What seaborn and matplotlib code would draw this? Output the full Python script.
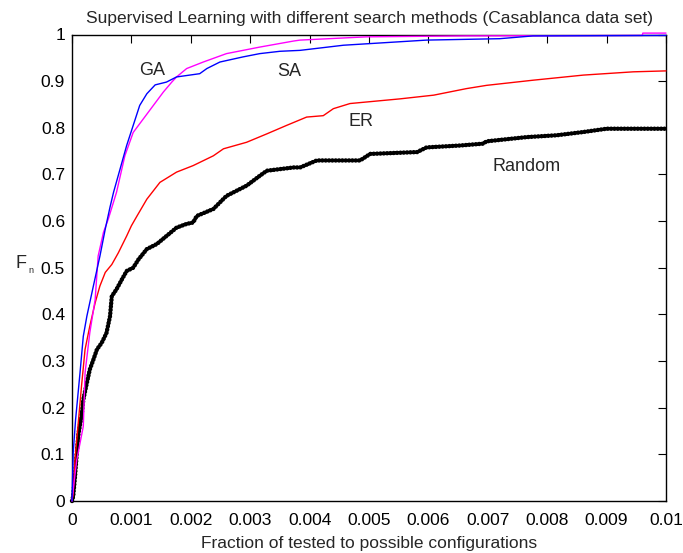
import matplotlib
matplotlib.use("Agg")
import matplotlib.pyplot as plt
import seaborn as sns
import pandas as pd

# ---- data ----
ga_x = [0, 0.00002, 0.00006, 0.000135, 0.00019, 0.00025, 0.00036, 0.00047, 0.00056, 0.00064,
        0.0007, 0.00081, 0.00092, 0.00103, 0.00114, 0.00126, 0.0014, 0.00159, 0.00176, 0.00215,
        0.00227, 0.00249, 0.00288, 0.00316, 0.0035, 0.00384, 0.00457, 0.00597, 0.0072, 0.00776, 0.01]
ga_y = [0, 0.103, 0.174, 0.275, 0.353, 0.396, 0.461, 0.525, 0.583, 0.630,
        0.662, 0.712, 0.762, 0.805, 0.848, 0.873, 0.892, 0.898, 0.909, 0.916,
        0.927, 0.941, 0.952, 0.959, 0.964, 0.966, 0.977, 0.988, 0.991, 0.997, 0.998]

sa_x = [0, 0.00002, 0.00008, 0.00019, 0.00022, 0.0003, 0.00039, 0.00044, 0.00053, 0.00061,
        0.00075, 0.00089, 0.00103, 0.0012, 0.00137, 0.00154, 0.00168, 0.00176, 0.00193, 0.00221,
        0.0026, 0.00316, 0.00373, 0.00384, 0.00496, 0.00664, 0.0096, 0.00961, 0.01]
sa_y = [0, 0.024, 0.088, 0.160, 0.275, 0.361, 0.432, 0.525, 0.576, 0.604,
        0.662, 0.740, 0.790, 0.819, 0.848, 0.877, 0.898, 0.909, 0.927, 0.941,
        0.959, 0.973, 0.986, 0.988, 0.995, 0.997, 0.998, 1.003, 1.003]

er_x = [0, 0.00002, 0.00005, 0.00011, 0.00016, 0.00022, 0.0003, 0.00039, 0.00047, 0.00056,
        0.00067, 0.00078, 0.00092, 0.001, 0.00109, 0.00126, 0.00148, 0.00176, 0.00204, 0.00238,
        0.00255, 0.00294, 0.00328, 0.00361, 0.00395, 0.00423, 0.0044, 0.00468, 0.00552, 0.00609,
        0.00664, 0.00698, 0.00776, 0.00861, 0.00945, 0.01]
er_y = [0, 0.016, 0.088, 0.174, 0.246, 0.325, 0.375, 0.425, 0.461, 0.490,
        0.507, 0.532, 0.568, 0.590, 0.610, 0.647, 0.683, 0.705, 0.719, 0.740,
        0.755, 0.769, 0.787, 0.805, 0.823, 0.826, 0.841, 0.852, 0.862, 0.870,
        0.884, 0.891, 0.902, 0.913, 0.920, 0.922]

rnd_x = [0, 0.00002, 0.00005, 0.00008, 0.00011, 0.00016, 0.00019, 0.00025, 0.0003, 0.00036,
         0.00042, 0.0005, 0.00058, 0.00064, 0.00067, 0.00075, 0.00084, 0.00092, 0.00103, 0.00112,
         0.00126, 0.00143, 0.00159, 0.00176, 0.00193, 0.00204, 0.0021, 0.00238, 0.0026, 0.00294,
         0.00316, 0.00328, 0.00373, 0.00384, 0.00412, 0.00485, 0.00502, 0.00581, 0.00597, 0.00653,
         0.00692, 0.00698, 0.00765, 0.00816, 0.00861, 0.009, 0.01]
rnd_y = [0, 0.010, 0.052, 0.102, 0.145, 0.181, 0.217, 0.253, 0.282, 0.303,
         0.325, 0.339, 0.360, 0.396, 0.439, 0.454, 0.475, 0.493, 0.500, 0.518,
         0.540, 0.551, 0.568, 0.586, 0.594, 0.597, 0.611, 0.626, 0.654, 0.676,
         0.697, 0.708, 0.715, 0.715, 0.730, 0.730, 0.744, 0.748, 0.758, 0.762,
         0.766, 0.771, 0.780, 0.784, 0.791, 0.798, 0.798]

x_ticks = [0, 0.001, 0.002, 0.003, 0.004, 0.005, 0.006, 0.007, 0.008, 0.009, 0.01]
x_tick_labels = ["0", "0.001", "0.002", "0.003", "0.004", "0.005", "0.006", "0.007", "0.008", "0.009", "0.01"]
y_ticks = [0, 0.1, 0.2, 0.3, 0.4, 0.5, 0.6, 0.7, 0.8, 0.9, 1]
y_tick_labels = ["0", "0.1", "0.2", "0.3", "0.4", "0.5", "0.6", "0.7", "0.8", "0.9", "1"]

labels = ["GA", "SA", "ER", "Random"]
label_pos_x = [0.00135, 0.00365, 0.00487, 0.00766]
label_pos_y = [0.923, 0.920, 0.813, 0.716]

title = "Supervised Learning with different search methods (Casablanca data set)"
xlabel = "Fraction of tested to possible configurations"

# ---- plotting ----
sns.set_style("white")
plt.rcParams["font.family"] = ["Liberation Sans", "DejaVu Sans"]

fig = plt.figure(figsize=(6.83, 5.53), dpi=100)
ax = fig.add_axes([72 / 683, 1 - 501 / 553, (666 - 72) / 683, (501 - 34.5) / 553])

sns.lineplot(x=rnd_x, y=rnd_y, ax=ax, color="black", linewidth=3.2, sort=False, estimator=None,
             linestyle=(0, (0.05, 0.7)), dash_capstyle="round", zorder=2)
sns.lineplot(x=er_x, y=er_y, ax=ax, color="#FF0000", linewidth=1.0, sort=False, estimator=None,
             zorder=3)
sns.lineplot(x=sa_x, y=sa_y, ax=ax, color="#FF00FF", linewidth=1.0, sort=False, estimator=None,
             zorder=4)
sns.lineplot(x=ga_x, y=ga_y, ax=ax, color="#0000FF", linewidth=1.0, sort=False, estimator=None,
             zorder=5)
for ln in ax.get_lines():
    ln.set_clip_on(False)

for lab, lx, ly in zip(labels, label_pos_x, label_pos_y):
    ax.text(lx, ly, lab, ha="center", va="center", fontsize=13)

ax.set_xlim(0, 0.01)
ax.set_ylim(0, 1)
ax.set_xticks(x_ticks)
ax.set_xticklabels(x_tick_labels)
ax.set_yticks(y_ticks)
ax.set_yticklabels(y_tick_labels)
ax.tick_params(direction="in", length=5.5, width=0.8, top=True, right=True,
               labelsize=12.5, colors="black")
ax.tick_params(axis="x", pad=8.5)
ax.tick_params(axis="y", pad=5)
for sp in ax.spines.values():
    sp.set_visible(True)
    sp.set_color("black")
    sp.set_linewidth(1.0)

ax.set_title(title, fontsize=12.5, pad=8)
ax.set_xlabel(xlabel, fontsize=12.5, labelpad=6)
fig.text(21 / 683, 1 - 263 / 553, "F", fontsize=13, ha="center", va="center")
fig.text(31 / 683, 1 - 270 / 553, "n", fontsize=6.5, ha="center", va="center")

fig.savefig("out.png", dpi=100)
